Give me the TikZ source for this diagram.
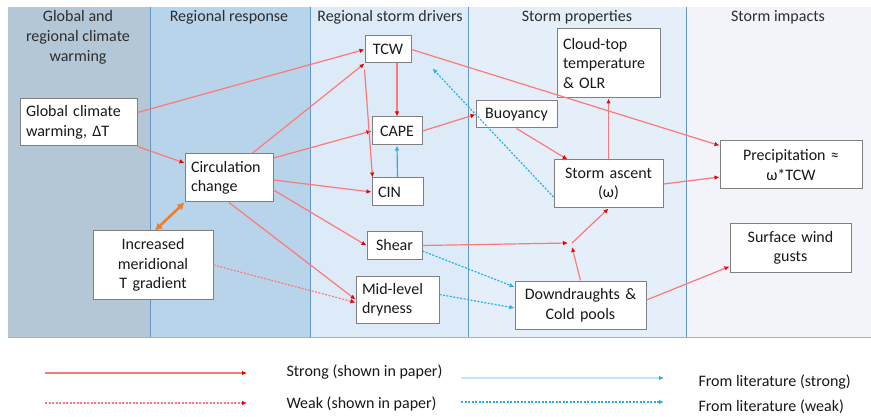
\documentclass[tikz,border=0pt]{standalone}
\usepackage{fontspec}
\setmainfont{Carlito}
\usetikzlibrary{arrows.meta,positioning}
\definecolor{colA}{RGB}{180,199,214}
\definecolor{colB}{RGB}{184,212,234}
\definecolor{colC}{RGB}{220,235,247}
\definecolor{colD}{RGB}{228,239,249}
\definecolor{colE}{RGB}{242,244,249}
\definecolor{sepblue}{RGB}{100,150,195}
\definecolor{boxgray}{RGB}{128,128,128}
\definecolor{txtgray}{RGB}{25,25,25}
\definecolor{headgray}{RGB}{45,45,45}
\definecolor{lred}{RGB}{255,120,120}
\definecolor{tipred}{RGB}{235,0,0}
\definecolor{lblue}{RGB}{40,175,230}
\definecolor{lorange}{RGB}{240,125,40}

\begin{document}
\begin{tikzpicture}[x=1pt,y=-1pt,
	box/.style={draw=boxgray,fill=white,line width=1pt,inner xsep=6pt,inner ysep=0pt,
		font=\fontsize{16}{19.5}\selectfont,text=txtgray},
	head/.style={align=center,font=\fontsize{16}{20}\selectfont,text=headgray},
	lbl/.style={anchor=west,font=\fontsize{16}{20}\selectfont,text=txtgray},
	strong/.style={draw=lred,line width=1.2pt,-{Latex[length=5pt,width=4.5pt,color=tipred]}},
	weak/.style={strong,dash pattern=on 2pt off 1.5pt},
	lit/.style={draw=lblue,line width=1.2pt,-{Latex[length=5pt,width=4.5pt,color=lblue]}},
	litweak/.style={lit,dash pattern=on 2pt off 1.5pt}]
	\useasboundingbox[fill=white] (0,0) rectangle (871,417);

	\fill[colA] (8,7) rectangle (150,337);
	\fill[colB] (150,7) rectangle (310,337);
	\fill[colC] (310,7) rectangle (468,337);
	\fill[colD] (468,7) rectangle (686,337);
	\fill[colE] (686,7) rectangle (871,337);
	\draw[sepblue,line width=1pt] (150,7) -- (150,337);
	\draw[sepblue,line width=1pt] (310,7) -- (310,337);
	\draw[sepblue,line width=0.8pt] (468,7) -- (468,337);
	\draw[sepblue,line width=0.8pt] (686,7) -- (686,337);
	\draw[sepblue!70,line width=1pt] (8,337) -- (871,337);

	\node[head] (h1) at (78,37) {Global and\\regional climate\\warming};
	\node[head] (h2) at (229,17) {Regional response};
	\node[head] (h3) at (390,17) {Regional storm drivers};
	\node[head] (h4) at (577,17) {Storm properties};
	\node[head] (h5) at (778,17) {Storm impacts};

	\node[box,minimum width=117pt,minimum height=47pt,text width=105pt,align=left] (gcw) at (78.5,122.5) {Global climate\\warming, ΔT};
	\node[box,minimum width=46pt,minimum height=27pt,text width=34pt,align=center] (tcw) at (388,49.5) {TCW};
	\node[box,minimum width=50pt,minimum height=28pt,text width=38pt,align=center] (cape) at (397,131) {CAPE};
	\node[box,minimum width=51pt,minimum height=28pt,text width=39pt,align=left] (cin) at (397.5,192) {CIN};
	\node[box,minimum width=88pt,minimum height=48pt,text width=76pt,align=left] (circ) at (229,178) {Circulation\\change};
	\node[box,minimum width=120pt,minimum height=68pt,text width=108pt,align=center] (merid) at (153,265) {Increased\\meridional\\T gradient};
	\node[box,minimum width=55pt,minimum height=27pt,text width=43pt,align=center] (shear) at (394.5,245.5) {Shear};
	\node[box,minimum width=83pt,minimum height=47pt,text width=71pt,align=left] (dry) at (397.5,299.5) {Mid-level\\dryness};
	\node[box,minimum width=103pt,minimum height=69pt,text width=91pt,align=left] (cloud) at (608.5,63.5) {Cloud-top\\temperature\\\& OLR};
	\node[box,minimum width=81pt,minimum height=27pt,text width=69pt,align=center] (buoy) at (516.5,114.5) {Buoyancy};
	\node[box,minimum width=109pt,minimum height=48pt,text width=97pt,align=center] (ascent) at (608.5,184) {Storm ascent\\(ω)};
	\node[box,minimum width=142pt,minimum height=48pt,text width=130pt,align=center] (precip) at (791,165) {Precipitation ≈\\ω*TCW};
	\node[box,minimum width=121pt,minimum height=48pt,text width=109pt,align=center] (gusts) at (790.5,248) {Surface wind\\gusts};
	\node[box,minimum width=131pt,minimum height=48pt,text width=119pt,align=center] (down) at (580.5,305) {Downdraughts \&\\Cold pools};
	\coordinate (jn) at (572,243);

	\draw[strong] ([yshift=10pt]gcw.east) -- (tcw.west);
	\draw[strong] (gcw.south east) -- ([yshift=15pt]circ.west);
	\draw[strong] ([xshift=23pt]circ.north) -- (tcw.south west);
	\draw[strong] ([yshift=20pt]circ.east) -- (cape.west);
	\draw[strong] ([yshift=-2pt]circ.east) -- (cin.west);
	\draw[strong] ([yshift=-12pt]circ.east) -- (shear.west);
	\draw[strong] (circ.south) -- (dry.west);
	\draw[lorange,line width=2.6pt,{Latex[length=7pt,width=8pt]}-{Latex[length=7pt,width=8pt]}] ([xshift=2pt]merid.north) -- (circ.south west);
	\draw[weak] (merid.east) -- ([yshift=-3pt]dry.west);
	\draw[strong] ([xshift=9pt]tcw.south) -- (cape.north);
	\draw[strong] ([yshift=-6pt]tcw.south west) -- ([xshift=1pt]cin.north west);
	\draw[lit] (cin.north) -- (cape.south);
	\draw[strong] (cape.east) -- (buoy.west);
	\draw[strong] (tcw.east) -- ([yshift=-5pt]precip.north west);
	\draw[strong] (buoy.south) -- ([xshift=14pt]ascent.north west);
	\draw[strong] (ascent.north) -- (cloud.south);
	\draw[strong] (ascent.east) -- ([yshift=-12pt]precip.west);
	\draw[strong] (shear.east) -- ([xshift=-4pt]jn);
	\draw[strong] (down.north) -- ([yshift=-4pt]jn);
	\draw[strong] (jn) -- (ascent.south);
	\draw[strong] ([yshift=5pt]down.east) -- ([yshift=6pt]gusts.south west);
	\draw[litweak] ([yshift=-13pt]ascent.west) -- ([xshift=21pt,yshift=-5pt]tcw.south east);
	\draw[litweak] ([yshift=-5.5pt]shear.east) -- ([yshift=18pt]down.west);
	\draw[litweak] ([yshift=5pt]dry.east) -- ([yshift=-3pt]down.west);

	\coordinate (ls1) at (45,373);
	\coordinate (le1) at (247,373);
	\coordinate (ls2) at (45,403);
	\coordinate (le2) at (247,403);
	\coordinate (ls3) at (461,378);
	\coordinate (le3) at (664,378);
	\coordinate (ls4) at (461,402);
	\coordinate (le4) at (664,402);
	\draw[strong] (ls1) -- (le1);
	\draw[weak] (ls2) -- (le2);
	\draw[lit,draw=lblue!30] (ls3) -- (le3);
	\draw[litweak] (ls4) -- (le4);
	\node[lbl] (t1) at (283,372) {Strong (shown in paper)};
	\node[lbl] (t2) at (283,404) {Weak (shown in paper)};
	\node[lbl] (t3) at (695,382) {From literature (strong)};
	\node[lbl] (t4) at (695,407) {From literature (weak)};
\end{tikzpicture}
\end{document}
